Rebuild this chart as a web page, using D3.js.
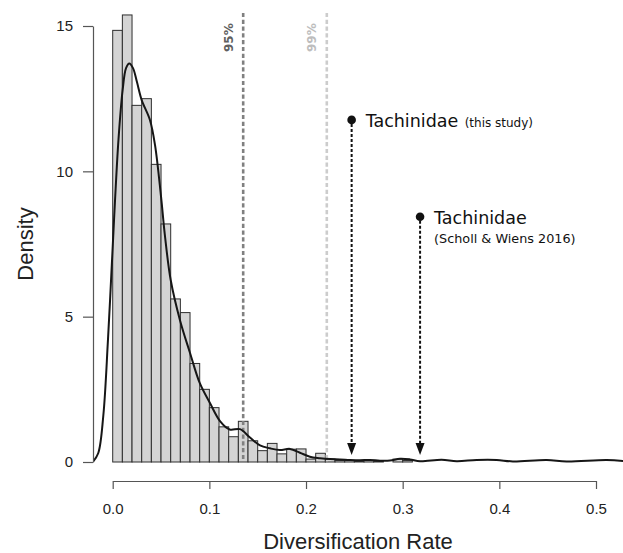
<!DOCTYPE html>
<html>
<head>
<meta charset="utf-8">
<script src="https://cdn.jsdelivr.net/npm/d3@7"></script>
<style>
  body { margin: 0; background: #fff; }
  svg { display: block; }
</style>
</head>
<body>
<div id="chart"></div>
<script>
// histogram: bins of 0.01 starting at 0, density per bin
var binStart = 0, binWidth = 0.01;
var binDensity = [14.85, 15.38, 12.27, 12.50, 10.24, 8.19, 5.61, 5.14, 3.39, 2.50,
                  1.87, 1.21, 0.87, 1.40, 0.73, 0.39, 0.64, 0.28, 0.44, 0.45,
                  0.10, 0.30, 0.10, 0.05, 0.05, 0.03, 0.05, 0.03, 0.00, 0.10,
                  0.05, 0.00, 0.00, 0.00, 0.00, 0.00, 0.00, 0.00, 0.00, 0.00,
                  0.00, 0.00, 0.00, 0.00, 0.00, 0.00, 0.00, 0.00, 0.00, 0.00,
                  0.00, 0.00, 0.00];

// kernel density line
var densX = [-0.0203, -0.0149, -0.0097, -0.0049, 0.0, 0.0024, 0.006, 0.0103, 0.0138, 0.0172,
             0.021, 0.0251, 0.030, 0.0386, 0.0438, 0.050, 0.054, 0.060, 0.0696, 0.080,
             0.090, 0.1006, 0.111, 0.121, 0.1317, 0.142, 0.1524, 0.1627, 0.173, 0.1834,
             0.1937, 0.204, 0.2145, 0.2248, 0.2351, 0.2455, 0.2558, 0.2662, 0.2765, 0.2869,
             0.2972, 0.3075, 0.318, 0.3403, 0.3559, 0.3765, 0.3972, 0.414, 0.449, 0.4696,
             0.511, 0.53];
var densY = [0.01, 0.31, 1.6, 4.2, 7.4, 9.0, 11.1, 12.8, 13.55, 13.71,
             13.55, 13.07, 12.45, 11.76, 10.9, 9.13, 7.8, 6.26, 4.88, 3.75,
             2.72, 2.03, 1.41, 1.12, 1.13, 0.84, 0.57, 0.47, 0.41, 0.45,
             0.32, 0.18, 0.13, 0.10, 0.09, 0.07, 0.06, 0.07, 0.045, 0.05,
             0.11, 0.09, 0.03, 0.08, 0.03, 0.07, 0.07, 0.02, 0.07, 0.015,
             0.07, 0.03];

// null distribution quantiles
var quantLabels = ["95%", "99%"];
var quantValues = [0.135, 0.2215];

// observed rates
var obsRates = [0.2472, 0.318];
var obsHeights = [11.77, 8.44];
var obsNames = ["Tachinidae", "Tachinidae"];
var obsNotes = ["(this study)", "(Scholl & Wiens 2016)"];
var arrowEnd = 0.24;

var xTicks = [0, 0.1, 0.2, 0.3, 0.4, 0.5];
var yTicks = [0, 5, 10, 15];

var width = 623, height = 553;

var svg = d3.select("#chart")
    .append("svg")
    .attr("width", width)
    .attr("height", height);

var x = d3.scaleLinear().domain([0, 0.5]).range([112.7, 596]);
var y = d3.scaleLinear().domain([0, 15]).range([462, 26]);

svg.append("clipPath")
    .attr("id", "plotClip")
    .append("rect")
    .attr("x", 93).attr("y", 10)
    .attr("width", width - 93).attr("height", 471);

var plot = svg.append("g").attr("clip-path", "url(#plotClip)");

// bars
plot.append("g")
    .selectAll("rect")
    .data(binDensity)
    .join("rect")
    .attr("x", function (d, i) { return x(binStart + i * binWidth); })
    .attr("width", function (d, i) { return x(binStart + (i + 1) * binWidth) - x(binStart + i * binWidth); })
    .attr("y", function (d) { return y(d); })
    .attr("height", function (d) { return y(0) - y(d); })
    .style("fill", "#d4d4d4")
    .style("stroke", "#2e2e2e")
    .style("stroke-width", 1);

// quantile lines
var qColors = ["#808080", "#cccccc"];
var qTextColors = ["#5f5f5f", "#bdbdbd"];
plot.append("g")
    .selectAll("line")
    .data(quantValues)
    .join("line")
    .attr("x1", function (d) { return x(d); })
    .attr("x2", function (d) { return x(d); })
    .attr("y1", y(15.45))
    .attr("y2", y(0))
    .style("stroke", function (d, i) { return qColors[i]; })
    .style("stroke-width", 2.6)
    .style("stroke-dasharray", "4.2,2.6");

svg.append("g")
    .selectAll("text")
    .data(quantValues)
    .join("text")
    .attr("transform", function (d) { return "translate(" + (x(d) - 10.5) + ",52) rotate(-90)"; })
    .attr("text-anchor", "start")
    .style("font-family", "DejaVu Sans, Verdana, sans-serif")
    .style("font-weight", "bold")
    .style("font-size", "12px")
    .style("fill", function (d, i) { return qTextColors[i]; })
    .text(function (d, i) { return quantLabels[i]; });

// density curve
var pts = densX.map(function (d, i) { return [d, densY[i]]; });
var line = d3.line()
    .x(function (d) { return x(d[0]); })
    .y(function (d) { return y(d[1]); })
    .curve(d3.curveCatmullRom);

plot.append("path")
    .datum(pts)
    .attr("d", line)
    .style("fill", "none")
    .style("stroke", "#161616")
    .style("stroke-width", 2);

// axes
var yAxis = d3.axisLeft(y).tickValues(yTicks).tickSize(10).tickSizeOuter(0).tickPadding(10);
var yg = svg.append("g").attr("transform", "translate(93,0)").call(yAxis);

var xAxis = d3.axisBottom(x).tickValues(xTicks).tickSize(8).tickSizeOuter(0)
    .tickPadding(14).tickFormat(d3.format(".1f"));
var xg = svg.append("g").attr("transform", "translate(0,481)").call(xAxis);

[yg, xg].forEach(function (g) {
    g.selectAll("path, line").style("stroke", "#555").style("stroke-width", 1.2);
    g.selectAll("text")
        .style("font-family", "Liberation Sans, Arial, sans-serif")
        .style("font-size", "15px")
        .style("fill", "#222");
});

svg.append("text")
    .attr("x", 358)
    .attr("y", 549)
    .attr("text-anchor", "middle")
    .style("font-family", "Liberation Sans, Arial, sans-serif")
    .style("font-size", "22px")
    .style("fill", "#222")
    .text("Diversification Rate");

svg.append("text")
    .attr("transform", "translate(33,244) rotate(-90)")
    .attr("text-anchor", "middle")
    .style("font-family", "Liberation Sans, Arial, sans-serif")
    .style("font-size", "22px")
    .style("fill", "#222")
    .text("Density");

// annotations: dot, dotted arrow, label
var ann = svg.append("g")
    .selectAll("g")
    .data(obsRates)
    .join("g");

ann.append("line")
    .attr("x1", function (d) { return x(d); })
    .attr("x2", function (d) { return x(d); })
    .attr("y1", function (d, i) { return y(obsHeights[i]) + 4; })
    .attr("y2", y(arrowEnd) - 11)
    .style("stroke", "#111")
    .style("stroke-width", 2)
    .style("stroke-dasharray", "3,2");

ann.append("path")
    .attr("d", function (d) {
        var px = x(d), tip = y(arrowEnd);
        return "M" + (px - 4.5) + "," + (tip - 12) + "L" + (px + 4.5) + "," + (tip - 12) + "L" + px + "," + tip + "Z";
    })
    .style("fill", "#111");

ann.append("circle")
    .attr("cx", function (d) { return x(d); })
    .attr("cy", function (d, i) { return y(obsHeights[i]); })
    .attr("r", 4.3)
    .style("fill", "#111");

ann.append("text")
    .attr("x", function (d) { return x(d) + 14; })
    .attr("y", function (d, i) { return y(obsHeights[i]) + 7.5; })
    .style("font-family", "DejaVu Sans, Verdana, sans-serif")
    .style("font-size", "17.5px")
    .style("fill", "#111")
    .text(function (d, i) { return obsNames[i]; });

ann.append("text")
    .attr("x", function (d, i) { return i === 0 ? x(d) + 113 : x(d) + 14; })
    .attr("y", function (d, i) { return y(obsHeights[i]) + (i === 0 ? 7.5 : 26.5); })
    .style("font-family", "DejaVu Sans, Verdana, sans-serif")
    .style("font-size", function (d, i) { return i === 0 ? "12px" : "12.8px"; })
    .style("fill", "#111")
    .text(function (d, i) { return obsNotes[i]; });
</script>
</body>
</html>
